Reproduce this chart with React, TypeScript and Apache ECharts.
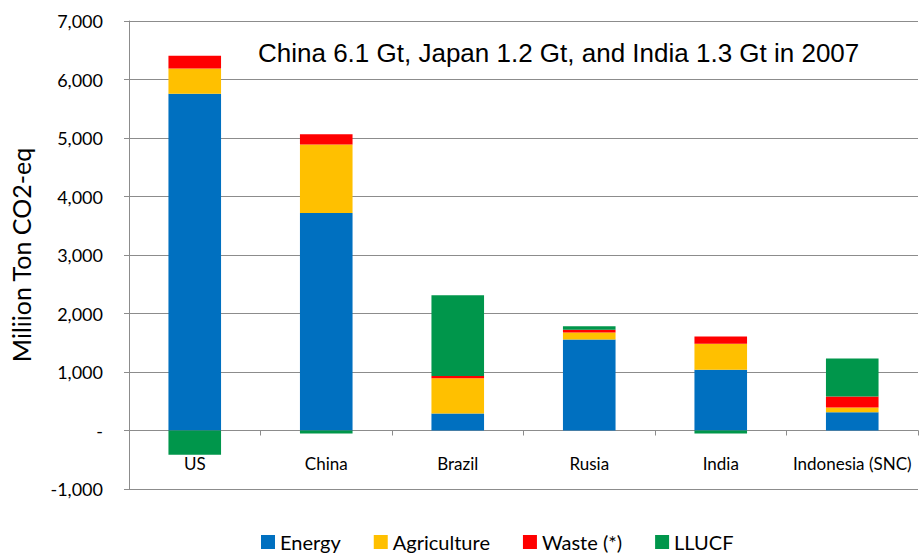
import React, { useEffect, useRef } from "react";
import * as echarts from "echarts";

const categories = ["US", "China", "Brazil", "Rusia", "India", "Indonesia (SNC)"];
const energy = [5755, 3720, 290, 1556, 1038, 313];
const agriculture = [433, 1170, 604, 120, 445, 80];
const waste = [217, 176, 39, 46, 125, 188];
const llucf = [-415, -50, 1380, 62, -50, 650];
const seriesNames = ["Energy", "Agriculture", "Waste (*)", "LLUCF"];
const seriesColors = ["#0070C0", "#FFC000", "#FF0000", "#00964B"];
const titleText = "China 6.1 Gt, Japan 1.2 Gt, and India 1.3 Gt in 2007";
const yAxisTitle = "Miliion Ton CO2-eq";

export default function App() {
  const ref = useRef<HTMLDivElement>(null);
  useEffect(() => {
    if (!ref.current) return;
    const chart = echarts.init(ref.current, undefined, { renderer: "svg" });
    const data = [energy, agriculture, waste, llucf];
    chart.setOption({
      animation: false,
      backgroundColor: "#ffffff",
      title: {
        text: titleText,
        left: 253,
        top: 35,
        textStyle: {
          fontFamily: "Liberation Sans, Arial",
          fontSize: 26,
          fontWeight: "normal",
          color: "#000",
        },
      },
      legend: {
        top: 527,
        left: 256,
        itemWidth: 14,
        itemHeight: 14,
        itemGap: 33,
        icon: "rect",
        padding: [5, 5, 2, 5],
        textStyle: { fontFamily: "Lato, Open Sans", fontSize: 20, color: "#000" },
        data: seriesNames,
      },
      grid: { left: 128, right: 1, top: 21, bottom: 66 },
      xAxis: {
        type: "category",
        data: categories,
        axisLine: { onZero: true, lineStyle: { color: "#8c8c8c" } },
        axisTick: { show: true, length: 5, inside: false, lineStyle: { color: "#8c8c8c" } },
        axisLabel: {
          interval: 0,
          hideOverlap: false,
          margin: -34,
          fontFamily: "Lato, Open Sans",
          fontSize: 17,
          color: "#000",
        },
      },
      yAxis: {
        type: "value",
        min: -1000,
        max: 7000,
        interval: 1000,
        name: yAxisTitle,
        nameLocation: "middle",
        nameGap: 96,
        nameTextStyle: { fontFamily: "Lato, Open Sans", fontSize: 25, color: "#000" },
        axisLine: { show: true, lineStyle: { color: "#8c8c8c" } },
        axisTick: { show: true, length: 5, lineStyle: { color: "#8c8c8c" } },
        splitLine: { lineStyle: { color: "#8c8c8c" } },
        axisLabel: {
          margin: 26,
          fontFamily: "Lato, Open Sans",
          fontSize: 18,
          color: "#000",
          formatter: (v: number) => (v === 0 ? "-" : v.toLocaleString("en-US")),
        },
      },
      series: seriesNames.map((name, i) => ({
        name,
        type: "bar",
        stack: "total",
        barWidth: "40%",
        itemStyle: { color: seriesColors[i] },
        data: data[i],
      })),
    });
    return () => chart.dispose();
  }, []);
  return (
    <div
      ref={ref}
      style={{ position: "absolute", left: 0, top: 0, width: 919, height: 555 }}
    />
  );
}
